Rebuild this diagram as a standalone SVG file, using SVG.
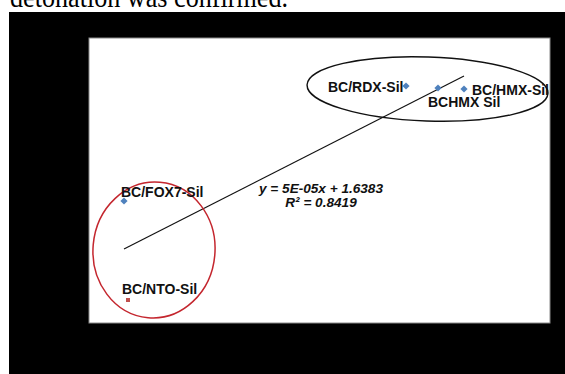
<svg xmlns="http://www.w3.org/2000/svg" width="565" height="374" viewBox="0 0 565 374">
  <style>
    .caption { font-family: "Liberation Serif", "Times New Roman", serif; font-size: 29px; fill: #000; }
    .lbl { font-family: "Liberation Sans", Arial, sans-serif; font-size: 14px; font-weight: bold; fill: #111; }
    .eq { font-family: "Liberation Sans", Arial, sans-serif; font-size: 13.6px; font-weight: bold; font-style: italic; fill: #111; }
    .blue { fill: #4f81bd; }
    .red { fill: #c0504d; }
    .trend { stroke: #111; stroke-width: 1.2; fill: none; }
  </style>
  <defs>
    <path id="diamond" d="M0,-3.6 L3.6,0 L0,3.6 L-3.6,0 Z"/>
    <clipPath id="plotClip">
      <rect x="89" y="38" width="461" height="285"/>
    </clipPath>
  </defs>

  <!-- page background and caption line above the figure -->
  <rect x="0" y="0" width="565" height="374" fill="#fff"/>
  <text class="caption" x="10" y="7" textLength="278" lengthAdjust="spacingAndGlyphs">detonation was confirmed.</text>

  <!-- dark frame -->
  <rect x="9" y="12" width="556" height="362" fill="#000"/>

  <!-- plot area -->
  <rect x="89" y="38" width="461" height="285" fill="#fff" stroke="#8a8a8a" stroke-width="1"/>

  <g clip-path="url(#plotClip)">
    <!-- regression line -->
    <g id="connectors">
      <line class="trend" x1="124" y1="249" x2="464" y2="76"/>
    </g>

    <!-- grouping ellipses -->
    <ellipse id="group-high" cx="427.5" cy="89" rx="120.5" ry="32" transform="rotate(2 427.5 89)" fill="none" stroke="#111" stroke-width="1.4"/>
    <ellipse id="group-low" cx="154" cy="250" rx="61" ry="68" transform="rotate(5 154 250)" fill="none" stroke="#c4262e" stroke-width="1.5"/>

    <!-- data points with labels -->
    <g id="rdx">
      <use href="#diamond" class="blue" x="406" y="86"/>
      <text class="lbl" x="328" y="92">BC/RDX-Sil</text>
    </g>
    <g id="bchmx">
      <use href="#diamond" class="blue" x="438" y="88"/>
      <text class="lbl" x="428" y="107">BCHMX Sil</text>
    </g>
    <g id="hmx">
      <use href="#diamond" class="blue" x="464" y="89"/>
      <text class="lbl" x="472" y="95">BC/HMX-Sil</text>
    </g>
    <g id="fox7">
      <use href="#diamond" class="blue" x="124" y="201"/>
      <text class="lbl" x="121" y="197">BC/FOX7-Sil</text>
    </g>
    <g id="nto">
      <rect class="red" x="126" y="298" width="4" height="4"/>
      <text class="lbl" x="122" y="294">BC/NTO-Sil</text>
    </g>

    <!-- fit equation -->
    <g id="equation">
      <text class="eq" x="321" y="193" text-anchor="middle">y = 5E-05x + 1.6383</text>
      <text class="eq" x="321" y="207" text-anchor="middle">R² = 0.8419</text>
    </g>
  </g>
</svg>
